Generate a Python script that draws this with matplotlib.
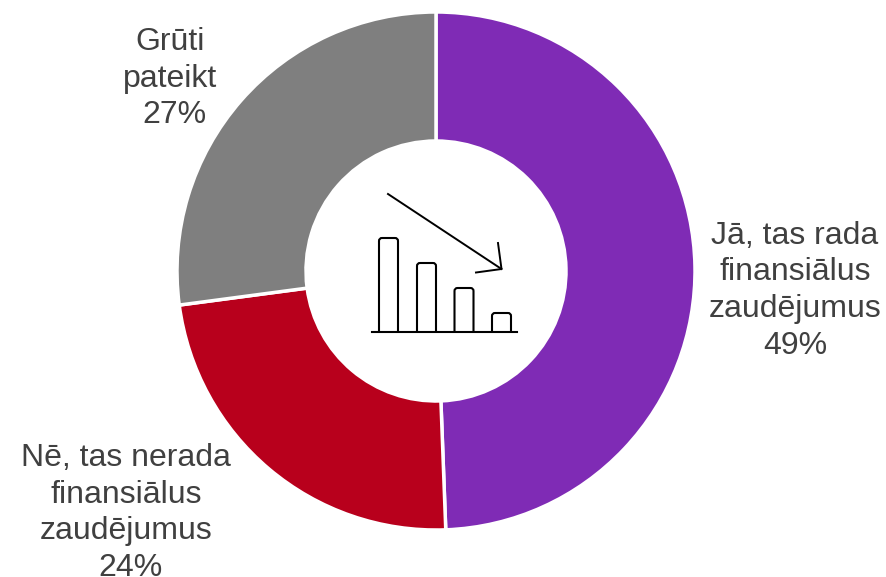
import matplotlib
matplotlib.use('Agg')
import matplotlib.pyplot as plt
from matplotlib.patches import FancyBboxPatch, Rectangle

plt.rcParams['font.family'] = ['Liberation Sans', 'DejaVu Sans']

# Values (slice sizes are a bit finer than the rounded labels)
categories = [['Jā, tas rada', 'finansiālus', 'zaudējumus'],
              ['Nē, tas nerada', 'finansiālus', 'zaudējumus'],
              ['Grūti', 'pateikt']]
values = [49.4, 23.5, 27.1]
percent_labels = [49, 24, 27]
colors = ['#7F2BB5', '#B8001C', '#7F7F7F']
icon_bars = [94, 69, 44, 19]

W, H = 886, 577
fig = plt.figure(figsize=(W / 100, H / 100), dpi=100)
ax = fig.add_axes([0, 0, 1, 1])

cx, cy, r = 436, 271, 259
# y axis is inverted, so the angles run clockwise on screen
ax.pie(values, colors=colors, startangle=-90, counterclock=True, radius=r, center=(cx, cy),
       wedgeprops=dict(width=r - 130, edgecolor='white', linewidth=2.5), frame=False)
ax.set_xlim(0, W)
ax.set_ylim(H, 0)
ax.set_aspect('equal')
ax.axis('off')

# Labels are placed line by line, the percent line sits off centre in two of them
name_x = [795, 126, 170]
pct_x = [795, 130.5, 174.5]
first_baseline = [244, 466.5, 50]
line_step = 36.5
for lines, pct, nx, px, y0 in zip(categories, percent_labels, name_x, pct_x, first_baseline):
    for i, line in enumerate(lines):
        ax.text(nx, y0 + i * line_step, line, ha='center', va='baseline', fontsize=23, color='#404040')
    ax.text(px, y0 + len(lines) * line_step, f'{pct}%', ha='center', va='baseline', fontsize=23, color='#404040')

# Icon in the centre: small bars and falling arrow
base = 332
for x, h in zip([379, 417, 454.5, 492], icon_bars):
    ax.add_patch(FancyBboxPatch((x, base - h), 19, h + 6, boxstyle='round,pad=0,rounding_size=3',
                                fc='white', ec='black', lw=1.5))
# hide the rounded feet of the bars below the baseline
ax.add_patch(Rectangle((370, base), 150, 10, fc='white', ec='none', zorder=3))
ax.plot([372.5, 517], [base, base], color='black', lw=1.5, zorder=4)
ax.plot([388, 501.5], [194, 269], color='black', lw=1.4)
ax.plot([498, 501.5, 476], [243, 269, 272.5], color='black', lw=1.4)

fig.savefig('out.png', dpi=100)
